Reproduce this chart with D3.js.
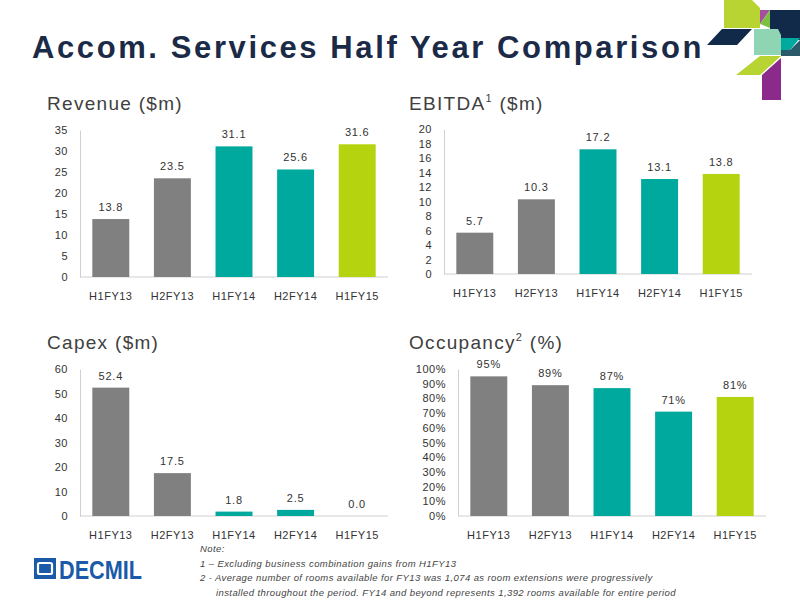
<!DOCTYPE html><html><head><meta charset="utf-8"><script src="https://cdn.jsdelivr.net/npm/d3@7"></script>
<style>body{margin:0;background:#fff}svg{font-family:"Liberation Sans",Arial,sans-serif}</style></head><body>
<svg id="s" width="800" height="600"></svg>
<script>
const categories=["H1FY13","H2FY13","H1FY14","H2FY14","H1FY15"];
const revenue=[13.8,23.5,31.1,25.6,31.6];
const ebitda=[5.7,10.3,17.2,13.1,13.8];
const capex=[52.4,17.5,1.8,2.5,0.0];
const occupancy=[95,89,87,71,81];
const revTicks=[0,5,10,15,20,25,30,35];
const ebTicks=[0,2,4,6,8,10,12,14,16,18,20];
const capTicks=[0,10,20,30,40,50,60];
const occTicks=[0,10,20,30,40,50,60,70,80,90,100];
const colors=["#808080","#808080","#00a99d","#00a99d","#b5d40f"];
const svg=d3.select("#s");
svg.append("text").attr("x",32).attr("y",58).attr("font-size",31).attr("font-weight","bold").attr("fill","#1b2a47").attr("letter-spacing",2.6).text("Accom. Services Half Year Comparison");
const lg=svg.append("g");
[["#b8d432","724,0 752,0 760,8 760,28 724,28"],["#a54f9e","760,10 770,10 760,24"],["#7cc142","760,24 770,10 770,28"],["#122a4a","770,10 800,10 800,40 775,40 770,30"],["#122a4a","707,45 722,29 752,29 737,45"],["#8fd4b3","754,29 778,29 781,35 781,55 754,55"],["#00a99d","781,38 800,38 790,50 781,50"],["#2a5a6a","781,50 790,50 800,40 800,56 781,56"],["#b8d432","736,75 760,56 781,56 760,75"],["#8b2a8a","762,75 781,58 781,100 762,100"]].forEach(d=>lg.append("polygon").attr("points",d[1]).attr("fill",d[0]));
svg.append("rect").attr("x",34).attr("y",558).attr("width",22).attr("height",21).attr("fill","#1a5aa8");
svg.append("rect").attr("x",38).attr("y",563).attr("width",14).attr("height",11).attr("rx",1.5).attr("fill","none").attr("stroke","#fff").attr("stroke-width",2.2);
svg.append("text").attr("x",59).attr("y",579).attr("font-size",25).attr("font-weight","bold").attr("fill","#1a5aa8").attr("textLength",83).attr("lengthAdjust","spacingAndGlyphs").text("DECMIL");
const notes=["Note:","1 – Excluding business combination gains from H1FY13","2 - Average number of rooms available for FY13 was 1,074 as room extensions were progressively","installed throughout the period. FY14 and beyond represents 1,392 rooms available for entire period"];
notes.forEach((t,i)=>svg.append("text").attr("x",i==3?216:200).attr("y",552+i*14.5).attr("font-size",9.5).attr("font-style","italic").attr("fill","#444").attr("letter-spacing",0.4).text(t));
function panel(o){
 const g=svg.append("g");
 g.append("text").attr("x",o.tx).attr("y",o.ty).attr("font-size",19).attr("fill","#404040").attr("letter-spacing",1.3).html(o.title);
 const y=d3.scaleLinear().domain([0,o.max]).range([o.y0,o.y1]);
 const x=d3.scaleBand().domain(categories).range([o.x0,o.x0+o.w]).paddingInner(0.4).paddingOuter(0.2);
 const ax=g.append("g").attr("transform",`translate(${o.x0},0)`).call(d3.axisLeft(y).tickValues(o.ticks).tickSize(0).tickPadding(12).tickFormat(o.fmt||(d=>d)));
 ax.select(".domain").attr("stroke","#d0d0d0");
 ax.selectAll("text").attr("font-size",11).attr("fill","#333").attr("font-family","Liberation Sans,Arial").attr("letter-spacing",0.5);
 g.append("line").attr("x1",o.x0).attr("x2",o.x0+o.w).attr("y1",o.y0).attr("y2",o.y0).attr("stroke","#d0d0d0");
 g.selectAll("rect.b").data(o.data).join("rect").attr("x",(d,i)=>x(categories[i])).attr("width",x.bandwidth()).attr("y",d=>y(d)).attr("height",d=>o.y0-y(d)).attr("fill",(d,i)=>colors[i]);
 g.selectAll("text.v").data(o.data).join("text").attr("x",(d,i)=>x(categories[i])+x.bandwidth()/2).attr("y",d=>y(d)-8).attr("text-anchor","middle").attr("font-size",11).attr("fill","#333").attr("letter-spacing",0.8).text(o.lab);
 g.selectAll("text.c").data(categories).join("text").attr("x",d=>x(d)+x.bandwidth()/2).attr("y",o.y0+23).attr("text-anchor","middle").attr("font-size",11).attr("fill","#333").attr("letter-spacing",0.5).text(d=>d);
}
panel({title:"Revenue ($m)",tx:47,ty:110,data:revenue,max:35,ticks:revTicks,x0:80,w:308,y0:277,y1:130,lab:d=>d.toFixed(1)});
panel({title:"EBITDA<tspan font-size='11' dy='-8'>1</tspan><tspan dy='8'> ($m)</tspan>",tx:409,ty:110,data:ebitda,max:20,ticks:ebTicks,x0:444,w:308,y0:274,y1:129,lab:d=>d.toFixed(1)});
panel({title:"Capex ($m)",tx:47,ty:349,data:capex,max:60,ticks:capTicks,x0:80,w:308,y0:516,y1:369,lab:d=>d.toFixed(1)});
panel({title:"Occupancy<tspan font-size='11' dy='-8'>2</tspan><tspan dy='8'> (%)</tspan>",tx:409,ty:349,data:occupancy,max:100,ticks:occTicks,x0:458,w:308,y0:516,y1:369,lab:d=>d+"%",fmt:d=>d+"%"});
</script></body></html>
